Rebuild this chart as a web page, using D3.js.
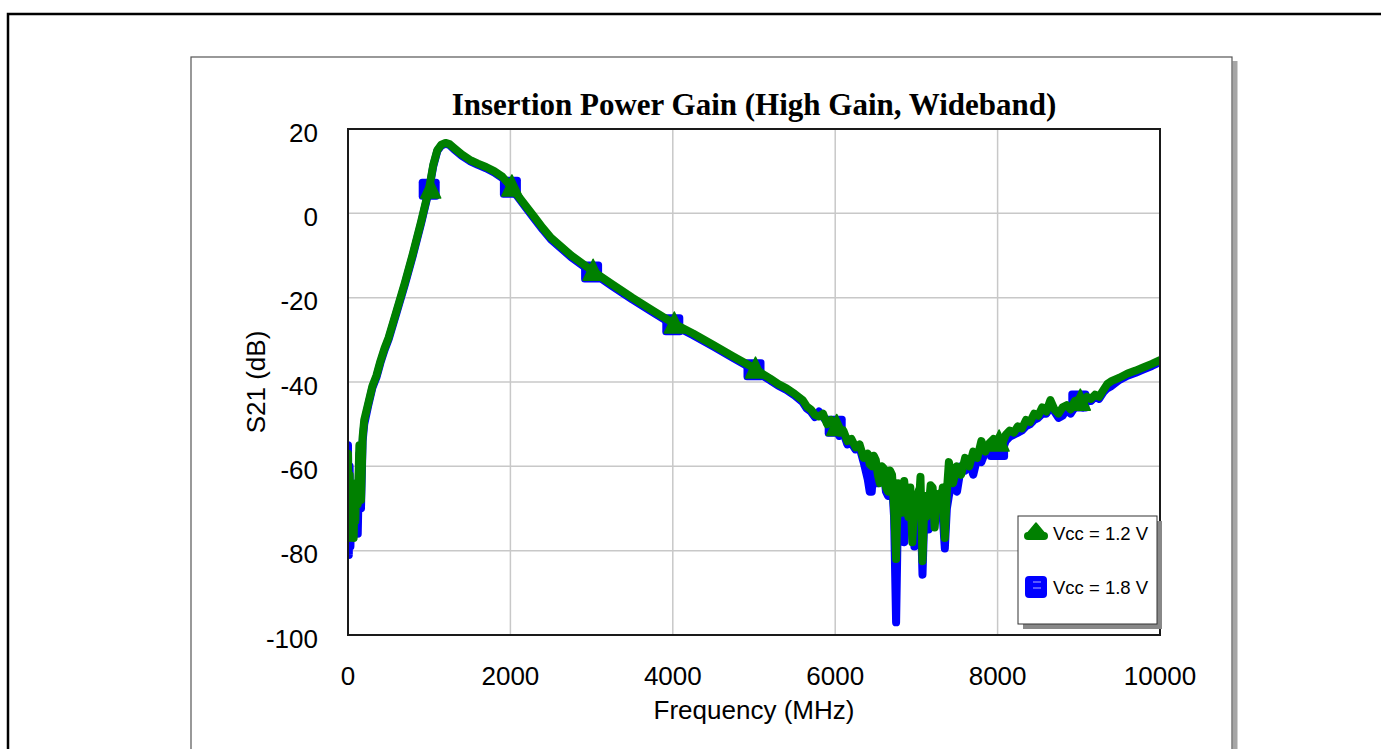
<!DOCTYPE html>
<html>
<head>
<meta charset="utf-8">
<title>Insertion Power Gain</title>
<script src="https://cdn.jsdelivr.net/npm/d3@7"></script>
<style>
  html, body { margin: 0; padding: 0; background: #fff; overflow: hidden; }
  svg { display: block; }
  .tick-label { font-family: Arial, "Liberation Sans", sans-serif; font-size: 26px; fill: #000; }
  .axis-title { font-family: Arial, "Liberation Sans", sans-serif; font-size: 26px; fill: #000; }
  .chart-title { font-family: "Times New Roman", "Liberation Serif", serif; font-size: 31px; font-weight: bold; fill: #000; }
  .legend-text { font-family: Arial, "Liberation Sans", sans-serif; font-size: 18.5px; fill: #000; }
</style>
</head>
<body>
<svg width="1381" height="749"></svg>
<script>
(function() {
    'use strict';

    // frequency points (MHz), shared by both traces
    var freqMHz = [
        0, 10, 20, 30, 40, 50, 60, 70, 80, 90, 100, 120, 140, 160, 180, 200, 250, 300, 350, 400, 450, 500, 600, 700, 800, 900,
        1000, 1050, 1100, 1150, 1200, 1250, 1300, 1400, 1500, 1600, 1700, 1800, 1900,
        2000, 2100, 2200, 2300, 2400, 2500, 2750, 3000, 3250, 3500, 3750, 4000, 4250, 4500, 4750,
        5000, 5100, 5200, 5300, 5400, 5500, 5600,
        5650, 5700, 5750, 5800, 5850, 5900, 5950, 6000, 6050, 6100, 6150, 6200, 6250, 6300, 6350,
        6400, 6425, 6450, 6475, 6500, 6525, 6550, 6575, 6600, 6625, 6650, 6675, 6700, 6725, 6750, 6775,
        6800, 6825, 6850, 6875, 6900, 6925, 6950, 6975, 7000, 7025, 7050, 7075, 7100, 7125, 7150, 7175,
        7200, 7225, 7250, 7275, 7300, 7325, 7350, 7375, 7400,
        7450, 7500, 7550, 7600, 7650, 7700, 7750, 7800, 7850, 7900, 7950,
        8000, 8050, 8100, 8150, 8200, 8250, 8300, 8350, 8400, 8450, 8500, 8550, 8600, 8650, 8700, 8750, 8800, 8850, 8900, 8950,
        9000, 9050, 9100, 9150, 9200, 9250, 9300, 9350, 9400,
        9500, 9600, 9700, 9800, 9900, 10000
    ];

    // S21 (dB), Vcc = 1.2 V
    var s21Vcc12 = [
        -57, -77, -62, -76, -66, -74, -65, -77, -67, -73, -64, -69, -55, -68, -53, -49, -45, -41, -38.5, -35, -32, -29.5, -23, -16.5, -9.5, -2,
        6, 11.5, 15, 16.3, 16.7, 16.4, 15.6, 14, 12.7, 11.8, 11, 10, 8.7,
        6.5, 4, 1.5, -1, -3.5, -5.8, -10, -13.5, -16.8, -20, -23, -26, -28.5, -31.2, -34,
        -36.7, -38, -39.2, -40.5, -41.5, -42.8, -44.3,
        -45.8, -46.5, -47.8, -48.2, -47.5, -50, -49, -50.3, -52, -51.5, -54, -53.5, -55.5, -54.8, -58,
        -57, -59.5, -60, -57.5, -58.5, -62, -64, -60, -60.5, -65, -66, -61, -62, -70, -82, -64,
        -67, -71, -63.5, -69, -72, -65, -78, -68, -67, -71, -62.5, -82.5, -67, -72, -70, -64.5,
        -65, -74.5, -68, -66.5, -70, -65, -77, -66, -59,
        -64, -60, -62, -58, -60, -56.5, -58, -54, -56.5, -54.5, -53.5,
        -54, -55, -52.5, -51.5, -52, -50.5, -51, -49, -49.5, -47.5, -48, -46, -47, -44.3, -46.5, -47.5, -46, -45.5, -46.5, -44.5,
        -44.3, -45, -43.5, -44, -43, -43.5, -42, -40.5, -39.8,
        -39, -38, -37.3, -36.5, -35.7, -34.8
    ];

    // S21 (dB), Vcc = 1.8 V
    var s21Vcc18 = [
        -55, -81, -60, -79, -68, -75, -66, -76, -70, -74, -65, -76, -57, -70, -54, -50, -45.5, -41.4, -38.9, -35.4, -32.4, -29.9, -23.4, -16.9, -9.9, -2.4,
        5.7, 11.2, 14.8, 16.1, 16.5, 16.2, 15.3, 13.7, 12.4, 11.5, 10.7, 9.7, 8.4,
        6.2, 3.7, 1.1, -1.4, -3.9, -6.2, -10.4, -13.9, -17.2, -20.4, -23.4, -26.4, -28.9, -31.6, -34.4,
        -37.1, -38.4, -39.6, -40.9, -41.9, -43.2, -44.8,
        -46.3, -47, -48.3, -47, -48.3, -49.5, -49.8, -50.5, -52.8, -52, -54.8, -54.5, -56, -55.5, -59,
        -63, -66, -66, -59, -60, -64, -62, -63, -61.5, -66, -67, -63, -64, -72, -97, -68,
        -70, -74, -78, -72, -75, -69, -70, -79, -69, -73, -68, -85.7, -70, -75, -75, -67,
        -66, -73, -72, -70, -70, -72, -79.5, -70, -67,
        -63, -66, -60, -61, -59, -62, -58, -59, -56.5, -57, -55,
        -56, -56.5, -54, -53, -52.5, -52, -51.5, -50.5, -50, -49, -48.5, -47.5, -47.5, -46, -47, -48.5, -48, -46.5, -47.5, -46,
        -44.5, -46, -44.5, -44.5, -43.5, -44, -42.5, -41.5, -41,
        -39.5, -38.5, -37.8, -37, -36.2, -35.3
    ];

    var markerFreqs = [1000, 2000, 3000, 4000, 5000, 6000, 7000, 8000, 9000];
    var xTicks = [0, 2000, 4000, 6000, 8000, 10000];
    var yTicks = [-100, -80, -60, -40, -20, 0, 20];
    var seriesNames = ['Vcc = 1.2 V', 'Vcc = 1.8 V'];

    var svg = d3.select('svg');

    var plot = { left: 348, top: 129, right: 1160, bottom: 635 };

    var x = d3.scaleLinear().domain([0, 10000]).range([plot.left, plot.right]);
    var y = d3.scaleLinear().domain([-100, 20]).range([plot.bottom, plot.top]);

    // outer frame and the chart panel with its drop shadow
    svg.append('rect')
        .attr('x', 8).attr('y', 14).attr('width', 1500).attr('height', 900)
        .attr('fill', 'none').attr('stroke', '#000').attr('stroke-width', 2.5);

    svg.append('rect')
        .attr('x', 1232.5).attr('y', 61).attr('width', 5).attr('height', 800)
        .attr('fill', '#a6a6a6');
    svg.append('rect')
        .attr('x', 191).attr('y', 57).attr('width', 1041).attr('height', 800)
        .attr('fill', '#fff').attr('stroke', '#555').attr('stroke-width', 1.2);

    // grid
    var grid = svg.append('g');
    grid.selectAll('line.vg')
        .data(xTicks.filter(function(d) { return d > 0 && d < 10000; }))
        .enter().append('line')
        .attr('x1', function(d) { return x(d); })
        .attr('x2', function(d) { return x(d); })
        .attr('y1', plot.top).attr('y2', plot.bottom)
        .attr('stroke', '#c8c8c8').attr('stroke-width', 1.5);
    grid.selectAll('line.hg')
        .data(yTicks.filter(function(d) { return d > -100 && d < 20; }))
        .enter().append('line')
        .attr('y1', function(d) { return y(d); })
        .attr('y2', function(d) { return y(d); })
        .attr('x1', plot.left).attr('x2', plot.right)
        .attr('stroke', '#c8c8c8').attr('stroke-width', 1.5);

    // tick labels
    svg.append('g').selectAll('text')
        .data(yTicks)
        .enter().append('text')
        .attr('class', 'tick-label')
        .attr('x', plot.left - 30)
        .attr('y', function(d) { return y(d) + 12.7; })
        .attr('text-anchor', 'end')
        .text(function(d) { return d; });

    svg.append('g').selectAll('text')
        .data(xTicks)
        .enter().append('text')
        .attr('class', 'tick-label')
        .attr('x', function(d) { return x(d); })
        .attr('y', 685)
        .attr('text-anchor', 'middle')
        .text(function(d) { return d; });

    // axis titles and chart title
    svg.append('text')
        .attr('class', 'axis-title')
        .attr('text-anchor', 'middle')
        .attr('x', (plot.left + plot.right) / 2)
        .attr('y', 719)
        .text('Frequency (MHz)');

    svg.append('text')
        .attr('class', 'axis-title')
        .attr('text-anchor', 'middle')
        .attr('transform', 'translate(265,' + (plot.top + plot.bottom) / 2 + ') rotate(-90)')
        .text('S21 (dB)');

    svg.append('text')
        .attr('class', 'chart-title')
        .attr('text-anchor', 'middle')
        .attr('x', (plot.left + plot.right) / 2)
        .attr('y', 115)
        .text('Insertion Power Gain (High Gain, Wideband)');

    // traces
    svg.append('clipPath').attr('id', 'plot-clip')
        .append('rect')
        .attr('x', plot.left).attr('y', plot.top - 20)
        .attr('width', plot.right - plot.left).attr('height', plot.bottom - plot.top + 20);

    var traces = svg.append('g').attr('clip-path', 'url(#plot-clip)');

    var line = d3.line()
        .x(function(d) { return x(d[0]); })
        .y(function(d) { return y(d[1]); });

    function pairs(vals) {
        return freqMHz.map(function(f, i) { return [f, vals[i]]; });
    }

    function markerPoints(vals) {
        return markerFreqs.map(function(f) { return [f, vals[freqMHz.indexOf(f)]]; });
    }

    function trianglePath(cx, cy) {
        return 'M' + cx + ',' + (cy - 10) + 'L' + (cx + 10) + ',' + (cy + 11) + 'L' + (cx - 10) + ',' + (cy + 11) + 'Z';
    }

    var blue = '#0000ff', green = '#008000';

    traces.append('path')
        .datum(pairs(s21Vcc18))
        .attr('d', line)
        .attr('fill', 'none').attr('stroke', blue)
        .attr('stroke-width', 8).attr('stroke-linejoin', 'round').attr('stroke-linecap', 'round');

    traces.selectAll('rect.m18')
        .data(markerPoints(s21Vcc18))
        .enter().append('rect')
        .attr('x', function(d) { return x(d[0]) - 10.5; })
        .attr('y', function(d) { return y(d[1]) - 10.5; })
        .attr('width', 21).attr('height', 21).attr('rx', 3.5)
        .attr('fill', blue);

    traces.append('path')
        .datum(pairs(s21Vcc12))
        .attr('d', line)
        .attr('fill', 'none').attr('stroke', green)
        .attr('stroke-width', 8).attr('stroke-linejoin', 'round').attr('stroke-linecap', 'round');

    traces.selectAll('path.m12')
        .data(markerPoints(s21Vcc12))
        .enter().append('path')
        .attr('d', function(d) { return trianglePath(x(d[0]) + 1.5, y(d[1]) - 1); })
        .attr('fill', green).attr('stroke', green).attr('stroke-width', 1.5).attr('stroke-linejoin', 'round');

    // plot border
    svg.append('rect')
        .attr('x', plot.left).attr('y', plot.top)
        .attr('width', plot.right - plot.left).attr('height', plot.bottom - plot.top)
        .attr('fill', 'none').attr('stroke', '#1a1a1a').attr('stroke-width', 2);

    // legend
    var lg = { x: 1018, y: 516, w: 139, h: 108 };
    svg.append('rect')
        .attr('x', lg.x + 5).attr('y', lg.y + 5).attr('width', lg.w).attr('height', lg.h)
        .attr('fill', '#888');
    svg.append('rect')
        .attr('x', lg.x).attr('y', lg.y).attr('width', lg.w).attr('height', lg.h)
        .attr('fill', '#fff').attr('stroke', '#333').attr('stroke-width', 1);

    var lgRows = [
        { name: seriesNames[0], color: green, cy: 533 },
        { name: seriesNames[1], color: blue, cy: 587 }
    ];

    svg.append('g').selectAll('text')
        .data(lgRows)
        .enter().append('text')
        .attr('class', 'legend-text')
        .attr('x', 1053)
        .attr('y', function(d) { return d.cy + 6.5; })
        .text(function(d) { return d.name; });

    // green entry: short thick line with triangle on top
    var r0 = lgRows[0];
    svg.append('line')
        .attr('x1', 1028).attr('x2', 1044).attr('y1', r0.cy + 3).attr('y2', r0.cy + 3)
        .attr('stroke', green).attr('stroke-width', 8).attr('stroke-linecap', 'round');
    svg.append('path')
        .attr('d', 'M1036,' + (r0.cy - 10) + 'L1046,' + (r0.cy + 2) + 'L1026,' + (r0.cy + 2) + 'Z')
        .attr('fill', green).attr('stroke', green).attr('stroke-width', 1.5).attr('stroke-linejoin', 'round');

    // blue entry: rounded square with the line showing through
    var r1 = lgRows[1];
    svg.append('rect')
        .attr('x', 1025).attr('y', r1.cy - 11).attr('width', 22).attr('height', 22).attr('rx', 4)
        .attr('fill', blue);
    svg.append('line')
        .attr('x1', 1033).attr('x2', 1041).attr('y1', r1.cy - 5).attr('y2', r1.cy - 5)
        .attr('stroke', '#b0b0ff').attr('stroke-width', 1);
    svg.append('line')
        .attr('x1', 1033).attr('x2', 1041).attr('y1', r1.cy + 1).attr('y2', r1.cy + 1)
        .attr('stroke', '#b0b0ff').attr('stroke-width', 1);
})();
</script>
</body>
</html>
